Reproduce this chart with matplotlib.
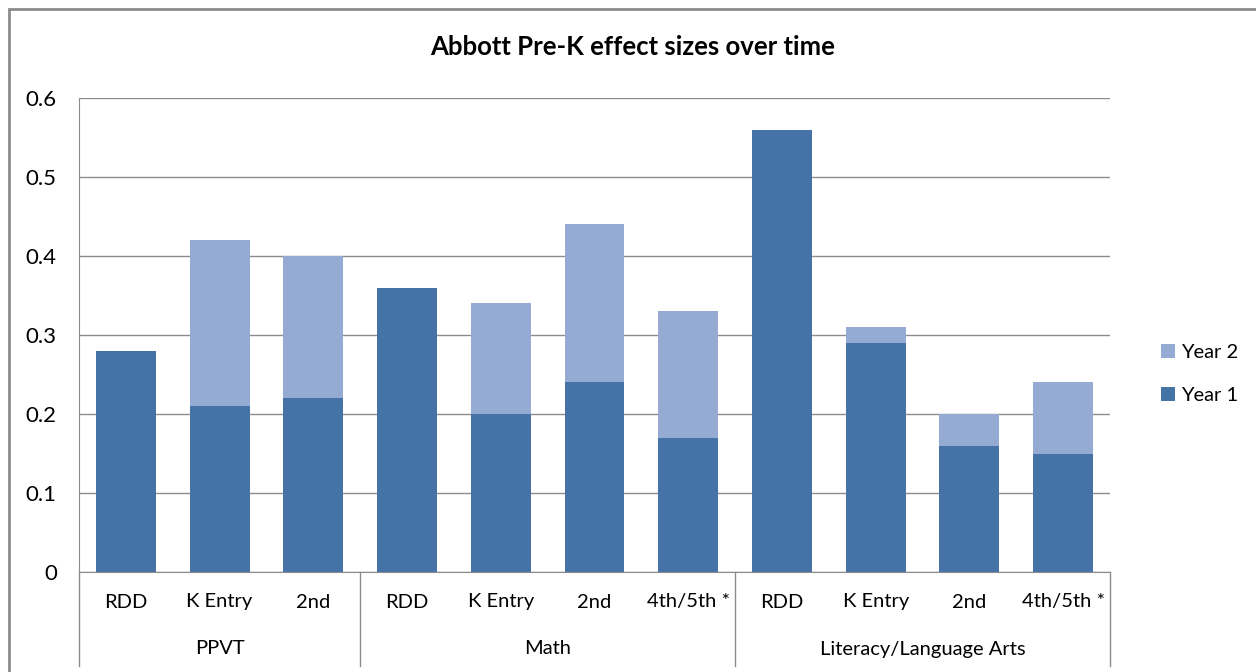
import matplotlib
matplotlib.use("Agg")
import matplotlib.pyplot as plt
from matplotlib.patches import Rectangle
import numpy as np

plt.rcParams['font.family'] = ['Lato', 'DejaVu Sans']

categories = ["RDD", "K Entry", "2nd", "RDD", "K Entry", "2nd", "4th/5th *",
              "RDD", "K Entry", "2nd", "4th/5th *"]
groups = ["PPVT", "Math", "Literacy/Language Arts"]
group_sizes = [3, 4, 4]
year1 = [0.28, 0.21, 0.22, 0.36, 0.20, 0.24, 0.17, 0.56, 0.29, 0.16, 0.15]
total = [0.28, 0.42, 0.40, 0.36, 0.34, 0.44, 0.33, 0.56, 0.31, 0.20, 0.24]
year2 = [t - y for t, y in zip(total, year1)]
yticks = [0, 0.1, 0.2, 0.3, 0.4, 0.5, 0.6]

c1 = "#4573A7"
c2 = "#95ABD3"
grid_c = "#8C8C8C"
fs = 14.5

fig = plt.figure(figsize=(12.56, 6.72), dpi=100)
fig.patches.append(Rectangle((9/1256, -0.1), 1.5, (672-9)/672 + 0.1,
                             transform=fig.transFigure, fill=False,
                             edgecolor="#8C8C8C", linewidth=2))
ax = fig.add_axes([79/1256, 100/672, (1110-79)/1256, (572-98)/672])

x = np.arange(len(categories))
w = 0.64
ax.bar(x, year1, w, color=c1, label="Year 1", zorder=3)
ax.bar(x, year2, w, bottom=year1, color=c2, label="Year 2", zorder=3)

ax.set_xlim(-0.5, len(categories) - 0.5)
ax.set_ylim(0, 0.6)
ax.set_yticks(yticks)
ax.set_yticklabels(["0"] + [f"{v:.1f}" for v in yticks[1:]], fontsize=16)
ax.tick_params(axis='y', length=0, pad=16)
ax.yaxis.grid(True, color=grid_c, linewidth=1, zorder=0)
for s in ["top", "right"]:
    ax.spines[s].set_visible(False)
ax.spines["left"].set_color(grid_c)
ax.spines["bottom"].set_color(grid_c)
ax.set_xticks([])

trans = ax.get_xaxis_transform()
for i, c in enumerate(categories):
    ax.text(i, -30/474, c, transform=trans, ha='center', va='center', fontsize=fs)
start = 0
bounds = [-0.5]
for g, n in zip(groups, group_sizes):
    mid = start + (n - 1) / 2
    ax.text(mid, -77/474, g, transform=trans, ha='center', va='center', fontsize=fs)
    start += n
    bounds.append(start - 0.5)
for b in bounds:
    ax.plot([b, b], [0, -94/474], transform=trans, color=grid_c, linewidth=1,
            clip_on=False)

fig.text(633/1256, 1 - 47/672, "Abbott Pre-K effect sizes over time",
         ha='center', va='center', fontsize=18.5, fontweight='bold')

handles, labels = ax.get_legend_handles_labels()
leg = fig.legend(handles[::-1], labels[::-1], loc='center left',
                 bbox_to_anchor=(1143/1256, 1 - 374/672), frameon=False,
                 fontsize=fs, handlelength=0.7, handleheight=0.7,
                 handletextpad=0.3, labelspacing=1.3)

fig.savefig("out.png", dpi=100)
